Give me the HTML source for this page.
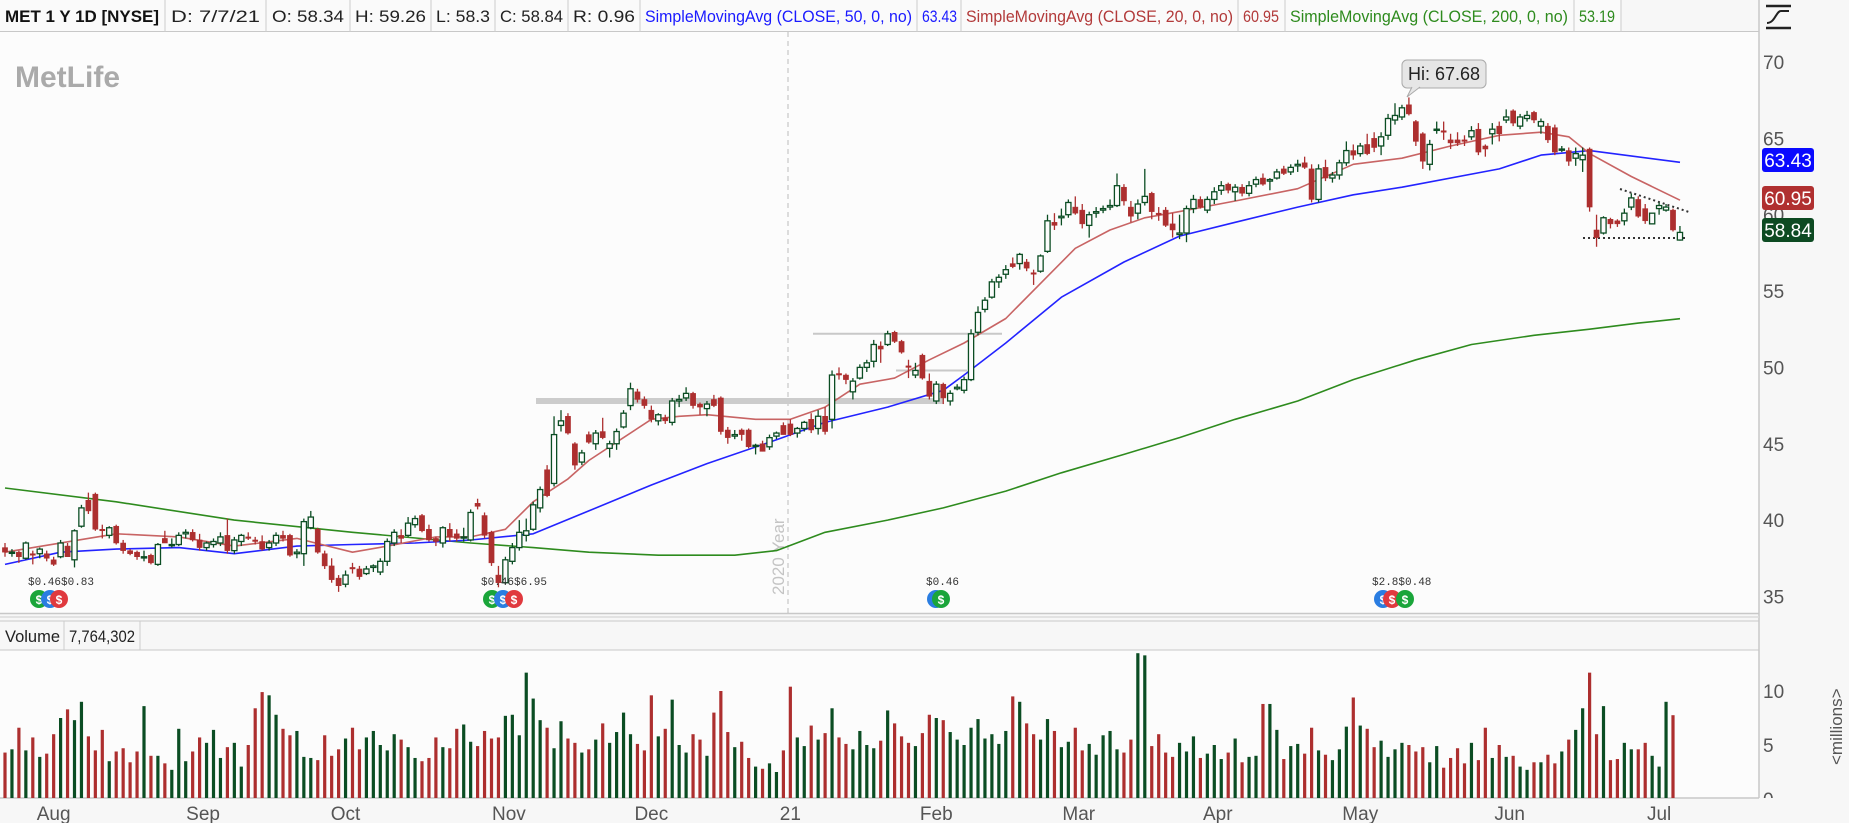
<!DOCTYPE html>
<html><head><meta charset="utf-8">
<style>
html,body{margin:0;padding:0;background:#fafafa;}
svg{display:block;font-family:"Liberation Sans",sans-serif;}
</style></head>
<body>
<svg id="chart" width="1849" height="823" viewBox="0 0 1849 823" xmlns="http://www.w3.org/2000/svg">
<defs><clipPath id="volClip"><rect x="1759" y="650" width="90" height="148"/></clipPath></defs>
<rect x="0" y="0" width="1849" height="823" fill="#f7f7f7"/>
<rect x="0" y="32" width="1759" height="581" fill="#fcfcfc"/>
<rect x="0" y="650" width="1759" height="148" fill="#fcfcfc"/>
<line x1="1759" y1="0" x2="1759" y2="798" stroke="#c8c8c8" stroke-width="1.5"/>
<line x1="0" y1="613.5" x2="1759" y2="613.5" stroke="#c8c8c8" stroke-width="1.5"/>
<line x1="0" y1="617" x2="1759" y2="617" stroke="#dcdcdc" stroke-width="1.5"/>
<line x1="0" y1="621" x2="1759" y2="621" stroke="#c8c8c8"/>
<line x1="0" y1="650" x2="1759" y2="650" stroke="#c8c8c8"/>
<line x1="0" y1="798" x2="1759" y2="798" stroke="#c8c8c8" stroke-width="1.5"/>

<g font-size="17" lengthAdjust="spacingAndGlyphs">
<rect x="0" y="0" width="1621" height="32" fill="#fafafa"/>
<line x1="0" y1="31.5" x2="1759" y2="31.5" stroke="#c8c8c8"/>
<text x="5" y="22" font-weight="bold" fill="#111" textLength="154" lengthAdjust="spacingAndGlyphs">MET 1 Y 1D [NYSE]</text>
<line x1="165" y1="0" x2="165" y2="32" stroke="#ccc"/>
<text x="171" y="22" fill="#222" textLength="89" lengthAdjust="spacingAndGlyphs">D: 7/7/21</text>
<line x1="266" y1="0" x2="266" y2="32" stroke="#ccc"/>
<text x="272" y="22" fill="#222" textLength="72" lengthAdjust="spacingAndGlyphs">O: 58.34</text>
<line x1="350" y1="0" x2="350" y2="32" stroke="#ccc"/>
<text x="355" y="22" fill="#222" textLength="71" lengthAdjust="spacingAndGlyphs">H: 59.26</text>
<line x1="431" y1="0" x2="431" y2="32" stroke="#ccc"/>
<text x="436" y="22" fill="#222" textLength="54" lengthAdjust="spacingAndGlyphs">L: 58.3</text>
<line x1="495" y1="0" x2="495" y2="32" stroke="#ccc"/>
<text x="500" y="22" fill="#222" textLength="63" lengthAdjust="spacingAndGlyphs">C: 58.84</text>
<line x1="568" y1="0" x2="568" y2="32" stroke="#ccc"/>
<text x="573" y="22" fill="#222" textLength="62" lengthAdjust="spacingAndGlyphs">R: 0.96</text>
<line x1="640" y1="0" x2="640" y2="32" stroke="#ccc"/>
<text x="645" y="22" fill="#1a1aff" textLength="267" lengthAdjust="spacingAndGlyphs">SimpleMovingAvg (CLOSE, 50, 0, no)</text>
<line x1="917" y1="0" x2="917" y2="32" stroke="#ccc"/>
<text x="922" y="22" fill="#1a1aff" textLength="35" lengthAdjust="spacingAndGlyphs">63.43</text>
<line x1="961" y1="0" x2="961" y2="32" stroke="#ccc"/>
<text x="966" y="22" fill="#b23a3a" textLength="267" lengthAdjust="spacingAndGlyphs">SimpleMovingAvg (CLOSE, 20, 0, no)</text>
<line x1="1238" y1="0" x2="1238" y2="32" stroke="#ccc"/>
<text x="1243" y="22" fill="#b23a3a" textLength="36" lengthAdjust="spacingAndGlyphs">60.95</text>
<line x1="1285" y1="0" x2="1285" y2="32" stroke="#ccc"/>
<text x="1290" y="22" fill="#2e8b1e" textLength="278" lengthAdjust="spacingAndGlyphs">SimpleMovingAvg (CLOSE, 200, 0, no)</text>
<line x1="1574" y1="0" x2="1574" y2="32" stroke="#ccc"/>
<text x="1579" y="22" fill="#2e8b1e" textLength="36" lengthAdjust="spacingAndGlyphs">53.19</text>
<line x1="1621" y1="0" x2="1621" y2="32" stroke="#ccc"/>
</g>

<g stroke="#222" stroke-width="2.5" fill="none">
<line x1="1766" y1="6" x2="1791" y2="6"/>
<line x1="1766" y1="28" x2="1791" y2="28"/>
<path d="M1767 23 C1775 23 1776 11 1781 11 L1789 11" stroke-width="2"/>
</g>

<text x="15" y="87" font-size="30" font-weight="bold" fill="#aaaaaa">MetLife</text>

<g>
<line x1="788" y1="32" x2="788" y2="613" stroke="#bbb" stroke-dasharray="5,4"/>
<text x="0" y="0" transform="translate(784,595) rotate(-90)" font-size="17" fill="#c4c4c4">2020 Year</text>
</g>

<g id="refLines"></g>
<g id="maLines"></g>
<g id="candles"></g>
<g id="volBars"></g>
<g id="axes"></g>
<g id="volAxis" clip-path="url(#volClip)"></g>
<g id="events"></g>

<g>
<rect x="1402" y="60" width="84" height="28" rx="5" fill="#e6e6e6" stroke="#aaa"/>
<path d="M1412 87 L1407 97 L1420 87" fill="#e6e6e6" stroke="#aaa"/>
<text x="1444" y="80" font-size="18" text-anchor="middle" fill="#222">Hi: 67.68</text>
</g>

<g font-size="17">
<text x="5" y="642" fill="#222" textLength="55" lengthAdjust="spacingAndGlyphs">Volume</text>
<line x1="64" y1="621" x2="64" y2="650" stroke="#ccc"/>
<text x="69" y="642" fill="#222" textLength="66" lengthAdjust="spacingAndGlyphs">7,764,302</text>
<line x1="140" y1="621" x2="140" y2="650" stroke="#ccc"/>
</g>
<text transform="translate(1842,765) rotate(-90)" font-size="17" fill="#555">&lt;millions&gt;</text>
</svg>

<script>
const opens=[38.2,37.9,37.9,37.5,37.8,37.8,37.8,37.4,37.6,38.3,37.4,39.6,41.3,41.7,39.4,39.0,39.6,38.5,38.0,37.9,37.6,37.7,37.1,38.8,38.4,38.4,39.1,39.2,38.7,38.2,38.4,38.5,39.0,38.0,38.6,38.9,38.7,38.6,38.2,38.5,39.0,39.0,37.8,37.8,39.5,39.4,37.8,37.0,36.2,35.8,36.9,36.8,36.5,36.9,36.6,37.3,38.5,39.0,39.0,39.7,40.3,39.4,38.8,38.5,39.4,39.1,38.9,38.7,41.1,40.3,39.2,36.4,35.9,37.3,38.2,39.0,39.4,40.8,43.3,42.4,46.2,46.8,45.0,43.8,45.6,45.0,45.8,44.7,45.0,46.1,47.5,48.4,47.9,47.2,46.5,46.7,46.4,47.8,48.0,48.3,47.6,47.3,47.9,48.0,45.9,45.5,45.9,45.9,44.9,45.0,44.8,45.5,46.2,46.3,45.7,46.0,46.6,46.0,46.8,46.6,49.6,49.5,48.4,49.3,50.0,50.4,51.4,51.5,52.3,51.7,50.1,49.5,50.8,49.1,47.8,48.9,47.8,48.6,48.5,49.2,52.3,53.8,54.6,55.6,56.1,56.8,56.8,56.9,56.2,56.3,57.6,59.5,59.8,60.0,60.5,60.3,59.3,60.1,60.3,60.5,60.6,61.8,60.5,60.1,60.8,61.4,60.1,60.3,59.4,58.7,58.8,60.4,61.0,60.3,61.0,61.6,62.0,61.5,61.8,61.4,62.0,62.4,62.2,62.4,63.0,62.8,63.2,63.4,63.0,61.0,63.1,62.4,62.6,63.4,64.2,64.0,64.6,65.0,64.5,65.2,66.2,66.4,67.2,66.1,65.3,63.3,65.6,65.5,64.9,64.9,64.9,65.1,65.6,64.5,65.3,65.8,66.2,66.8,65.8,66.3,66.7,65.8,65.8,65.7,64.3,64.2,63.7,63.6,64.3,59.0,58.8,59.7,59.6,59.6,60.5,61.0,60.4,59.4,60.4,60.3,60.3,58.34];
const highs=[38.5,38.1,38.0,38.6,38.0,38.2,38.0,37.6,38.7,38.5,39.4,41.0,41.8,41.8,39.7,39.6,39.7,38.7,38.1,38.0,38.0,37.8,38.5,39.3,38.8,39.2,39.4,39.4,39.1,38.6,38.8,39.2,40.1,38.9,39.1,39.2,38.9,39.0,38.7,39.2,39.3,39.1,38.1,40.1,40.6,39.5,38.0,37.5,36.4,36.7,37.2,37.0,37.0,37.1,37.5,38.8,39.4,39.4,40.2,40.3,40.4,39.7,38.9,39.6,39.8,39.4,39.5,40.7,41.4,40.5,39.3,37.0,37.6,38.5,40.0,40.1,41.2,42.2,43.6,46.8,47.2,47.0,45.1,44.6,45.8,45.9,46.7,45.2,46.0,47.2,49.0,48.6,48.1,47.5,47.0,46.9,48.0,48.2,48.7,48.4,47.7,47.8,48.2,48.1,46.1,45.9,46.0,46.0,45.0,45.2,45.6,45.8,46.4,46.6,46.1,46.5,47.0,47.2,47.4,49.8,50.0,49.6,49.3,50.2,50.5,51.8,51.7,52.4,52.4,51.8,50.5,50.3,50.9,49.6,49.1,49.0,48.5,48.9,49.4,52.5,54.0,54.6,55.8,56.1,56.7,57.2,57.5,57.1,56.4,57.4,60.0,60.1,60.4,61.0,61.2,60.7,60.2,60.5,60.6,61.0,62.7,62.0,60.9,61.0,63.0,61.5,60.5,60.5,60.1,60.0,60.6,61.3,61.2,61.2,61.8,62.2,62.1,62.0,62.0,62.2,62.5,62.7,62.4,63.0,63.2,63.3,63.6,63.8,63.3,63.3,63.6,62.8,63.6,64.8,64.6,64.7,65.3,65.4,65.4,66.6,67.3,67.2,67.68,66.2,65.4,64.9,66.1,66.1,65.3,65.4,65.2,65.8,66.0,64.6,66.0,66.1,66.9,66.9,66.6,66.8,66.8,66.3,66.0,65.9,64.5,64.4,64.4,64.4,64.4,60.0,59.9,59.8,59.7,60.4,61.4,61.2,60.7,60.1,60.8,60.7,60.4,59.26];
const lows=[37.6,37.6,37.2,37.4,37.1,37.5,37.3,37.0,37.5,37.6,36.9,39.5,40.4,39.3,38.8,38.8,38.4,37.8,37.7,37.4,37.3,37.1,37.0,38.5,38.2,38.3,38.8,38.6,38.0,38.0,38.2,38.3,37.8,37.8,38.3,38.7,38.4,38.0,38.0,38.3,38.6,37.6,37.5,37.0,39.4,37.8,36.8,35.9,35.3,35.6,36.5,36.1,36.4,36.6,36.4,37.0,38.3,38.5,38.9,39.5,39.2,38.6,38.3,38.2,38.6,38.6,38.6,38.6,40.7,38.8,37.0,35.6,35.8,37.1,38.0,38.6,39.3,40.5,41.5,42.2,45.8,45.6,43.3,43.6,45.0,44.6,45.3,44.1,44.6,46.0,47.2,47.7,47.3,46.4,46.2,46.3,46.2,47.4,47.8,47.3,46.9,46.8,47.4,45.6,45.0,45.3,45.2,44.7,44.3,44.5,44.6,45.3,45.6,45.5,45.4,45.8,45.7,45.6,45.6,46.0,49.2,48.9,47.9,49.2,49.7,50.0,50.3,51.4,51.6,50.9,49.3,49.3,49.2,47.9,47.6,47.6,47.5,48.5,48.3,49.1,52.1,53.6,54.5,55.2,55.8,56.5,56.4,56.3,55.4,56.2,57.5,59.0,59.3,59.8,60.0,59.1,58.5,59.8,60.1,60.3,60.5,60.6,59.5,59.7,60.6,59.7,59.6,59.2,58.5,58.4,58.2,60.1,60.4,60.1,60.7,61.3,61.4,60.9,61.2,61.2,61.8,61.9,61.6,62.3,62.6,62.6,62.8,63.0,60.8,60.8,62.2,62.1,62.3,63.2,63.6,63.8,63.9,64.1,63.9,64.9,65.9,66.2,66.5,64.5,63.0,62.9,65.3,64.9,64.3,64.5,64.5,64.9,63.9,63.8,64.6,64.8,66.0,65.8,65.6,66.1,66.0,65.3,64.7,63.9,64.1,63.2,63.2,62.8,60.2,57.9,58.7,59.1,59.2,59.3,60.3,59.8,59.4,59.4,60.0,60.2,58.9,58.3];
const closes=[37.9,37.9,37.6,38.5,37.7,38.1,37.5,37.1,38.5,37.6,39.3,40.8,40.6,39.4,39.3,39.5,38.5,38.0,37.8,37.6,37.6,37.2,38.4,38.5,38.4,39.0,39.2,38.7,38.2,38.5,38.6,38.9,38.0,38.7,39.0,38.8,38.6,38.1,38.5,39.0,38.8,37.7,37.9,39.9,40.2,37.9,37.0,36.1,35.7,36.4,36.8,36.3,36.8,37.0,37.3,38.6,39.2,38.8,39.8,40.1,39.3,38.7,38.6,39.5,38.9,38.8,38.9,40.5,40.9,39.0,37.2,35.9,37.4,38.2,39.2,39.3,41.0,42.0,41.6,45.6,46.5,45.7,43.6,44.4,45.1,45.7,45.4,45.0,45.8,47.0,48.6,47.9,47.5,46.6,46.9,46.5,47.8,47.9,48.3,47.5,47.4,47.6,47.5,45.8,45.4,45.6,45.6,44.8,44.9,44.5,45.4,45.7,45.6,45.6,46.0,46.4,45.9,46.8,45.8,49.5,49.5,49.2,49.1,50.0,50.3,51.5,51.2,52.2,51.7,51.0,50.0,49.8,49.3,48.1,48.9,48.0,48.3,48.7,49.2,52.2,53.6,54.4,55.6,55.9,56.4,56.6,57.4,56.5,56.1,57.3,59.6,59.3,59.9,60.8,60.1,59.4,60.0,60.2,60.4,60.6,61.9,60.9,59.9,60.7,61.2,60.2,60.0,59.3,59.0,58.8,60.4,61.0,60.5,61.0,61.5,61.9,61.6,61.8,61.4,61.9,62.3,62.0,62.3,62.8,62.7,63.1,63.3,63.1,61.0,63.0,62.4,62.6,63.4,64.2,63.9,64.5,64.0,64.4,65.1,66.3,66.5,67.0,66.6,64.8,63.5,64.6,65.6,65.4,64.7,64.7,64.8,65.5,64.1,64.3,65.6,65.3,66.4,66.0,66.4,66.5,66.2,66.1,64.9,64.1,64.3,63.5,64.0,63.9,60.5,58.5,59.8,59.4,59.4,60.1,61.1,59.9,59.6,60.1,60.6,60.5,59.0,58.84];
const volumes=[4.3,4.6,6.6,4.5,5.7,3.9,4.2,6.0,7.5,8.3,7.3,9.0,5.8,4.5,6.4,3.5,4.4,4.7,3.4,4.4,8.6,4.0,4.0,3.3,2.7,6.5,3.5,4.4,5.7,5.2,6.4,3.8,4.8,5.2,3.0,5.0,8.4,9.9,9.6,7.8,6.5,5.9,6.3,3.9,3.8,3.6,5.9,4.0,4.6,5.6,6.6,4.6,5.7,6.3,5.0,4.5,6.0,5.5,4.8,3.8,3.5,3.8,5.7,4.8,4.7,6.5,6.9,5.3,4.9,6.3,5.6,5.7,7.7,7.8,5.9,11.7,9.3,7.3,6.6,4.7,7.2,5.6,5.2,4.3,4.6,5.5,7.0,5.2,6.2,8.0,6.0,5.1,4.5,9.6,5.8,6.5,9.2,5.0,4.3,6.0,5.5,4.0,8.0,10.0,6.2,4.8,5.3,3.8,3.0,2.8,3.3,2.5,4.5,10.4,5.7,4.9,6.8,5.5,6.1,8.4,5.7,5.1,4.6,6.3,5.0,4.7,5.4,8.2,7.0,5.8,5.2,4.9,6.1,7.8,7.5,7.3,6.2,5.5,5.0,6.6,7.4,5.6,6.0,5.1,6.3,9.5,9.0,7.0,6.0,5.5,7.4,6.3,4.8,5.3,6.6,4.5,5.1,4.1,5.9,6.3,4.6,4.3,5.5,13.5,13.3,4.9,6.0,4.3,3.9,5.2,4.4,5.8,3.8,4.2,5.0,3.7,4.3,5.6,3.4,3.9,4.0,8.8,8.8,6.4,3.7,4.9,5.1,4.2,6.6,4.5,4.1,3.6,4.6,6.7,9.4,6.8,6.5,4.8,5.4,3.9,4.6,5.2,5.0,4.4,4.8,3.4,4.9,2.9,3.8,4.7,3.3,5.2,3.6,6.6,3.8,5.0,3.9,4.0,3.0,2.7,3.4,3.4,4.1,3.3,4.4,5.5,6.4,8.4,11.7,6.0,8.6,3.6,3.7,5.2,4.6,4.6,5.2,4.0,3.0,9.0,7.76];
const sma50Idx=[0,8,16,25,33,42,50,59,67,76,84,93,101,110,118,127,135,138,144,152,161,169,177,186,194,201,215,221,228,241];
const sma50Val=[37.1,37.9,38.1,38.2,37.8,38.3,38.4,38.5,38.7,39.1,40.6,42.3,43.7,45.1,46.4,47.4,48.5,49.5,51.6,54.6,56.9,58.6,59.5,60.5,61.3,61.8,63.0,63.9,64.2,63.43];
const sma20Idx=[0,16,25,33,42,50,55,62,67,72,76,81,84,89,93,97,101,108,113,118,123,128,133,138,144,149,154,159,164,169,177,186,194,201,208,215,221,225,228,234,241];
const sma20Val=[37.9,39.1,38.9,38.3,38.8,37.9,38.3,38.9,38.9,39.4,41.2,42.7,43.9,45.4,46.6,46.8,46.9,46.6,46.6,47.4,48.9,49.3,50.5,51.6,53.2,55.5,57.8,59.0,59.8,60.2,60.9,61.7,63.3,63.7,64.5,65.2,65.4,65.1,64.0,62.5,60.95];
const sma200Idx=[0,16,33,50,67,76,84,94,105,111,118,127,135,144,152,161,169,177,186,194,203,211,220,228,235,241];
const sma200Val=[42.1,41.2,40.0,39.2,38.5,38.2,37.9,37.7,37.7,38.0,39.2,40.0,40.8,41.9,43.1,44.3,45.4,46.6,47.8,49.2,50.5,51.5,52.1,52.5,52.9,53.19];
const priceTicks=[70,65,60,55,50,45,40,35];
const volTicks=[10,5,0];
const monthLabels=["Aug","Sep","Oct","Nov","Dec","21","Feb","Mar","Apr","May","Jun","Jul"];
const monthIdx=[7,28.5,49,72.5,93,113,134,154.5,174.5,195,216.5,238];

const NS="http://www.w3.org/2000/svg";
const xI=i=>5+i*6.95;
const yP=p=>62+(70-p)*15.27;
const yV=v=>799-v*10.8;
function mk(tag,attrs,parent){const e=document.createElementNS(NS,tag);for(const k in attrs)e.setAttribute(k,attrs[k]);parent.appendChild(e);return e;}
const G=id=>document.getElementById(id);
const UP="#0b4d23",DN="#ad2f2f";

const ref=G('refLines');
let r=mk('rect',{x:536,y:yP(47.8)-3,width:407,height:6,fill:"#cccccc"},ref);


r=mk('line',{x1:813,y1:yP(52.2),x2:1002,y2:yP(52.2),stroke:"#c8c8c8","stroke-width":2},ref);


r=mk('line',{x1:896,y1:yP(49.8),x2:967,y2:yP(49.8),stroke:"#c8c8c8","stroke-width":2},ref);


r=mk('line',{x1:1620,y1:189,x2:1689,y2:212,stroke:"#333","stroke-width":2,"stroke-dasharray":"2,3"},ref);


r=mk('line',{x1:1583,y1:238,x2:1688,y2:238,stroke:"#333","stroke-width":2,"stroke-dasharray":"2,3"},ref);



function drawMA(idx,val,color,name,w){
  const d=idx.map((i,k)=>(k?'L':'M')+xI(i).toFixed(1)+' '+yP(val[k]).toFixed(1)).join(' ');
  const p=mk('path',{d:d,fill:"none",stroke:color,"stroke-width":w,"stroke-linejoin":"round"},G('maLines'));
  
  
}
drawMA(sma200Idx,sma200Val,"#2e8b1e","sma200-line",1.6);
drawMA(sma50Idx,sma50Val,"#2323ff","sma50-line",1.6);
drawMA(sma20Idx,sma20Val,"#c86464","sma20-line",1.6);

const cg=G('candles');
for(let i=0;i<closes.length;i++){
  const up=closes[i]>=opens[i];
  const col=up?UP:DN;
  const x=xI(i);
  const g=mk('g',{},cg);
  
  
  mk('line',{x1:x,y1:yP(highs[i]),x2:x,y2:yP(lows[i]),stroke:col,"stroke-width":1.3},g);
  const t=yP(Math.max(opens[i],closes[i])),b=yP(Math.min(opens[i],closes[i]));
  mk('rect',{x:x-2.6,y:t,width:5.2,height:Math.max(b-t,1.2),fill:up?"#fcfcfc":col,stroke:col,"stroke-width":up?1.3:0.5},g);
}

const vg=G('volBars');
for(let i=0;i<volumes.length;i++){
  const up=closes[i]>=opens[i];
  const b=mk('rect',{x:xI(i)-1.6,y:yV(volumes[i]),width:3.2,height:799-yV(volumes[i])-1,fill:up?UP:DN},vg);
  
  
}

const ag=G('axes');
priceTicks.forEach(p=>{
  const t=mk('text',{x:1763,y:yP(p)+7,"font-size":19,fill:"#555"},ag);
  t.textContent=p;
  
  
});
volTicks.forEach(v=>{
  const t=mk('text',{x:1763,y:yV(v)+7,"font-size":19,fill:"#555"},G('volAxis'));
  t.textContent=v;
  
  
});
monthLabels.forEach((m,k)=>{
  const t=mk('text',{x:xI(monthIdx[k]),y:820,"font-size":19,fill:"#555","text-anchor":"middle"},ag);
  t.textContent=m;
  
  
});
[[sma50Val[sma50Val.length-1],"#0a0aff"],[sma20Val[sma20Val.length-1],"#b03030"],[closes[closes.length-1],"#0d4a22"]].forEach((bv,k)=>{
  const yy=[160,198,230][k];
  const g=mk('g',{},ag);
  
  
  mk('rect',{x:1762,y:yy-12,width:52,height:24,rx:3,fill:bv[1]},g);
  const t=mk('text',{x:1788,y:yy+7,"font-size":19,fill:"#fff","text-anchor":"middle"},g);
  t.textContent=bv[0].toFixed(2);
});

const eg=G('events');
const evGroups=[[[39,"#1aa53a"],[50,"#2a7de1"],[59,"#e0393e"]],[[492,"#1aa53a"],[503,"#2a7de1"],[514,"#e0393e"]],[[936,"#2a7de1"],[941,"#1aa53a"]],[[1383,"#2a7de1"],[1392,"#e0393e"],[1405,"#1aa53a"]]];
const evText=[["$0.46$0.83",28],["$0.46$6.95",481],["$0.46",926],["$2.8$0.48",1372]];
evGroups.forEach((grp,k)=>{
  const g=mk('g',{},eg);
  
  
  const tt=mk('text',{x:evText[k][1],y:585,"font-size":11,fill:"#333","font-family":"Liberation Mono, monospace"},g);
  tt.textContent=evText[k][0];
  grp.forEach(c=>{
    mk('circle',{cx:c[0],cy:599,r:9,fill:c[1]},g);
    const s=mk('text',{x:c[0],y:604,"font-size":12,"font-weight":"bold",fill:"#fff","text-anchor":"middle"},g);
    s.textContent="$";
  });
});
</script>
</body></html>
